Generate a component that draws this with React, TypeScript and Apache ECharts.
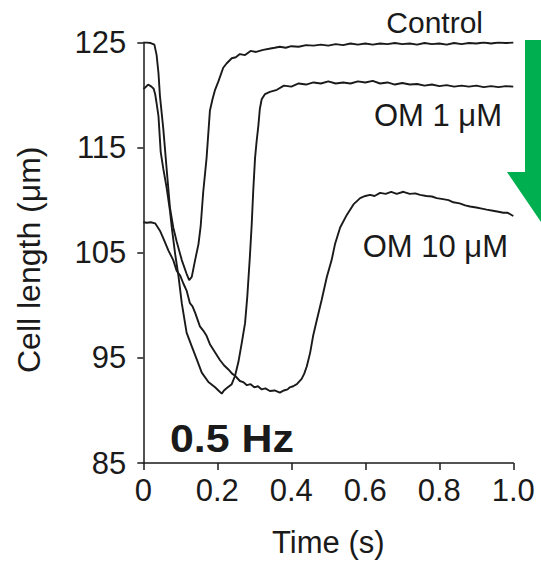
import React, { useEffect, useRef } from "react";
import * as echarts from "echarts";

const xTicks = ["0", "0.2", "0.4", "0.6", "0.8", "1.0"];
const yTicks = [85, 95, 105, 115, 125];
const seriesNames = ["Control", "OM 1 μM", "OM 10 μM"];
const panelLabel = "0.5 Hz";
const xAxisName = "Time (s)";
const yAxisName = "Cell length (μm)";

const control: [number, number][] = [
  [0, 125.0], [0.01, 125.0], [0.02, 124.95], [0.03, 124.8], [0.036, 123.8], [0.041, 122.1],
  [0.045, 119.9], [0.054, 116.8], [0.063, 113.0], [0.072, 109.3], [0.081, 107.4], [0.09, 106.1],
  [0.104, 104.3], [0.117, 103.0], [0.124, 102.4], [0.131, 102.7], [0.14, 104.3], [0.149, 105.8],
  [0.155, 107.5], [0.162, 110.8], [0.171, 114.0], [0.18, 118.5], [0.187, 119.6], [0.194, 120.5],
  [0.203, 121.3], [0.216, 122.6], [0.225, 123.0], [0.239, 123.5], [0.25, 123.6], [0.261, 123.9],
  [0.275, 123.8], [0.29, 124.2], [0.305, 124.1], [0.324, 124.3], [0.34, 124.4], [0.355, 124.5],
  [0.369, 124.6], [0.385, 124.5], [0.4, 124.65], [0.42, 124.6], [0.44, 124.75], [0.46, 124.7],
  [0.48, 124.8], [0.5, 124.7], [0.52, 124.85], [0.54, 124.75], [0.56, 124.9], [0.58, 124.8],
  [0.6, 124.9], [0.62, 124.8], [0.64, 124.9], [0.66, 124.85], [0.68, 124.95], [0.7, 124.85],
  [0.72, 124.9], [0.74, 124.8], [0.76, 124.95], [0.78, 124.85], [0.8, 124.9], [0.82, 124.8],
  [0.84, 124.95], [0.86, 124.85], [0.88, 124.95], [0.9, 124.9], [0.92, 125.0], [0.94, 124.9],
  [0.96, 125.0], [0.98, 124.95], [1.0, 125.0],
];

const om1: [number, number][] = [
  [0, 120.6], [0.005, 120.7], [0.013, 121.0], [0.022, 120.8], [0.028, 120.6], [0.032, 120.1],
  [0.036, 119.2], [0.041, 118.0], [0.047, 114.6], [0.054, 113.0], [0.063, 111.2], [0.072, 109.0],
  [0.077, 107.4], [0.086, 104.9], [0.095, 102.8], [0.104, 100.2], [0.117, 97.4], [0.131, 96.1],
  [0.144, 94.9], [0.158, 93.6], [0.176, 92.7], [0.194, 92.2], [0.203, 91.9], [0.212, 91.6],
  [0.218, 91.9], [0.225, 92.1], [0.239, 92.5], [0.248, 93.3], [0.257, 94.6], [0.266, 96.4],
  [0.275, 98.3], [0.281, 100.8], [0.288, 104.6], [0.293, 107.7], [0.297, 110.8], [0.302, 114.0],
  [0.306, 115.5], [0.311, 117.1], [0.315, 118.7], [0.32, 119.6], [0.329, 120.1], [0.342, 120.3],
  [0.361, 120.5], [0.38, 120.9], [0.4, 120.8], [0.42, 121.1], [0.44, 121.0], [0.46, 121.2],
  [0.48, 121.1], [0.5, 121.3], [0.52, 121.1], [0.54, 121.2], [0.56, 121.1], [0.58, 121.3],
  [0.6, 121.2], [0.62, 121.35], [0.64, 121.1], [0.66, 121.2], [0.68, 121.0], [0.7, 121.15],
  [0.72, 121.0], [0.74, 121.05], [0.76, 120.9], [0.78, 121.0], [0.8, 120.85], [0.82, 120.95],
  [0.84, 120.8], [0.86, 120.9], [0.88, 120.8], [0.9, 120.9], [0.92, 120.75], [0.94, 120.85],
  [0.96, 120.75], [0.98, 120.85], [1.0, 120.8],
];

const om10: [number, number][] = [
  [0, 107.9], [0.01, 107.85], [0.02, 107.9], [0.032, 107.8], [0.045, 107.1], [0.055, 106.3],
  [0.068, 105.2], [0.081, 104.3], [0.09, 103.3], [0.1, 102.8], [0.108, 102.1], [0.117, 101.4],
  [0.126, 100.2], [0.133, 99.9], [0.14, 99.3], [0.153, 98.0], [0.162, 97.6], [0.171, 97.1],
  [0.18, 96.3], [0.189, 95.8], [0.198, 95.3], [0.207, 94.8], [0.218, 94.3], [0.23, 93.9],
  [0.24, 93.5], [0.248, 93.3], [0.261, 92.8], [0.27, 92.7], [0.28, 92.4], [0.29, 92.5],
  [0.3, 92.2], [0.31, 92.3], [0.32, 92.0], [0.33, 92.1], [0.342, 91.85], [0.355, 91.9],
  [0.369, 91.7], [0.38, 91.9], [0.39, 92.0], [0.396, 92.2], [0.405, 92.3], [0.415, 92.5],
  [0.428, 93.0], [0.435, 93.5], [0.442, 94.2], [0.451, 95.5], [0.459, 97.1], [0.469, 98.6],
  [0.482, 100.5], [0.496, 102.7], [0.509, 104.3], [0.518, 105.8], [0.532, 107.4], [0.55, 108.6],
  [0.568, 109.6], [0.586, 110.2], [0.6, 110.4], [0.613, 110.5], [0.625, 110.4], [0.64, 110.7],
  [0.655, 110.6], [0.67, 110.8], [0.685, 110.6], [0.703, 110.8], [0.72, 110.6], [0.735, 110.65],
  [0.748, 110.5], [0.765, 110.4], [0.78, 110.35], [0.793, 110.2], [0.81, 110.1], [0.825, 110.0],
  [0.838, 109.8], [0.855, 109.7], [0.87, 109.5], [0.883, 109.4], [0.9, 109.3], [0.915, 109.2],
  [0.928, 109.1], [0.945, 109.0], [0.96, 108.9], [0.973, 108.8], [0.985, 108.8], [1.0, 108.5],
];

const FONT = "'Liberation Sans', Arial, sans-serif";
const INK = "#1a1a1a";

export default function App() {
  const ref = useRef<HTMLDivElement>(null);
  useEffect(() => {
    if (!ref.current) return;
    const chart = echarts.init(ref.current, undefined, { renderer: "svg" });
    const lineSeries = (name: string, data: [number, number][]) => ({
      name,
      type: "line",
      data,
      showSymbol: false,
      symbol: "none",
      smooth: false,
      lineStyle: { color: INK, width: 1.9 },
      silent: true,
    });
    chart.setOption({
      animation: false,
      backgroundColor: "#ffffff",
      grid: { left: 143.3, right: 27.7, top: 42.5, bottom: 94.5, containLabel: false },
      xAxis: {
        type: "value",
        min: 0,
        max: 1,
        interval: 0.2,
        name: xAxisName,
        nameLocation: "middle",
        nameGap: 64,
        nameTextStyle: { fontFamily: FONT, fontSize: 31, color: INK },
        axisLine: { lineStyle: { color: INK, width: 1.5 } },
        axisTick: { inside: false, length: 7, lineStyle: { color: INK, width: 1.5 } },
        axisLabel: {
          fontFamily: FONT,
          fontSize: 31,
          color: INK,
          margin: 12,
          formatter: (_v: number, i: number) => xTicks[i],
        },
        splitLine: { show: false },
      },
      yAxis: {
        type: "value",
        min: yTicks[0],
        max: yTicks[yTicks.length - 1],
        interval: 10,
        name: yAxisName,
        nameLocation: "middle",
        nameGap: 98,
        nameRotate: 90,
        nameTextStyle: { fontFamily: FONT, fontSize: 32, color: INK, padding: [0, 14, 0, 0] },
        axisLine: { lineStyle: { color: INK, width: 1.5 } },
        axisTick: { inside: false, length: 6, lineStyle: { color: INK, width: 1.5 } },
        axisLabel: { fontFamily: FONT, fontSize: 31, color: INK, margin: 17 },
        splitLine: { show: false },
      },
      series: [
        lineSeries(seriesNames[0], control),
        lineSeries(seriesNames[1], om1),
        lineSeries(seriesNames[2], om10),
      ],
      graphic: [
        {
          type: "polygon",
          shape: {
            points: [[525, 40], [565, 40], [565, 172], [583, 172], [545, 228], [507, 172], [525, 172]],
          },
          style: { fill: "#00B050" },
          silent: true,
        },
        {
          type: "text",
          x: 483,
          y: 22,
          style: { text: seriesNames[0], font: `30px ${FONT}`, fill: INK, textAlign: "right", textVerticalAlign: "middle" },
        },
        {
          type: "text",
          x: 502,
          y: 115,
          style: { text: seriesNames[1], font: `31px ${FONT}`, fill: INK, textAlign: "right", textVerticalAlign: "middle" },
        },
        {
          type: "text",
          x: 508,
          y: 246,
          style: { text: seriesNames[2], font: `31px ${FONT}`, fill: INK, textAlign: "right", textVerticalAlign: "middle" },
        },
        {
          type: "text",
          x: 170,
          y: 439,
          scaleX: 1.1,
          style: { text: panelLabel, font: `bold 39px ${FONT}`, fill: INK, textAlign: "left", textVerticalAlign: "middle" },
        },
      ],
    });
    return () => chart.dispose();
  }, []);
  return (
    <div
      ref={ref}
      style={{ position: "fixed", left: 0, top: 0, width: 541, height: 563, background: "#fff" }}
    />
  );
}
